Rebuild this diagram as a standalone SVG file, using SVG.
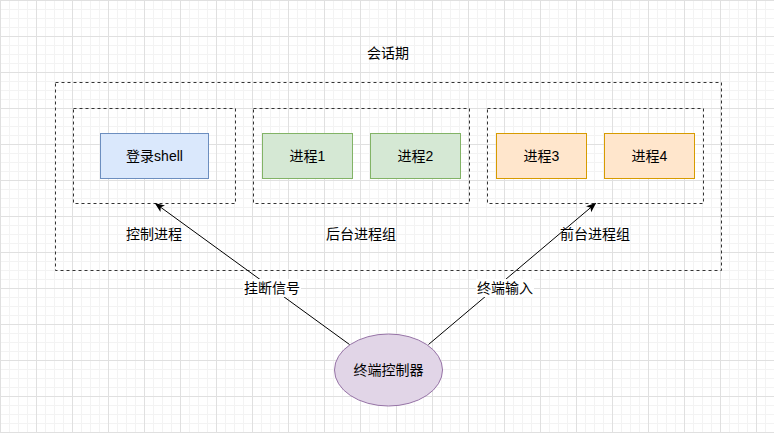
<svg xmlns="http://www.w3.org/2000/svg" width="774" height="433" viewBox="0 0 774 433">
<style>
text{font-family:"Liberation Sans","Noto Sans CJK SC",sans-serif;font-size:14px;fill:#000;text-anchor:middle;dominant-baseline:central}
.grp{fill:none;stroke:#333;stroke-width:1;stroke-dasharray:3 3}
.blue{fill:#dae8fc;stroke:#6c8ebf}
.green{fill:#d5e8d4;stroke:#82b366}
.orange{fill:#ffe6cc;stroke:#d79b00}
.edge{fill:none;stroke:#000;stroke-width:1}
.lbl{fill:#fff}
</style>
<defs>
<pattern id="minor" width="9" height="9" patternUnits="userSpaceOnUse">
<path d="M0.5 0V9M0 0.5H9" stroke="#f3f3f3" stroke-width="1" fill="none"/>
</pattern>
<pattern id="major" width="36" height="36" patternUnits="userSpaceOnUse">
<rect width="36" height="36" fill="url(#minor)"/>
<path d="M0.5 0V36M0 0.5H36" stroke="#e0e0e0" stroke-width="1" fill="none"/>
</pattern>
<marker id="arr" viewBox="0 0 10 10" refX="9" refY="5" markerWidth="10" markerHeight="10" orient="auto" markerUnits="userSpaceOnUse">
<path d="M0 1 L10 5 L0 9 L2.5 5 Z" fill="#000"/>
</marker>
</defs>
<rect width="774" height="433" fill="#fff"/>
<rect width="774" height="433" fill="url(#major)"/>

<g id="session">
<rect class="grp" x="55.5" y="82.5" width="666" height="188"/>
<text x="388" y="53">会话期</text>
</g>
<g id="control-group">
<rect class="grp" x="73.5" y="108.5" width="162" height="95"/>
<text x="154" y="234">控制进程</text>
</g>
<g id="login-shell">
<rect class="blue" x="100.5" y="133.5" width="108" height="45"/>
<text x="154.5" y="156">登录shell</text>
</g>
<g id="bg-group">
<rect class="grp" x="253.5" y="108.5" width="216" height="95"/>
<text x="361" y="234">后台进程组</text>
</g>
<g id="p1">
<rect class="green" x="262.5" y="133.5" width="90" height="45"/>
<text x="307.5" y="156">进程1</text>
</g>
<g id="p2">
<rect class="green" x="370.5" y="133.5" width="90" height="45"/>
<text x="415.5" y="156">进程2</text>
</g>
<g id="fg-group">
<rect class="grp" x="487.5" y="108.5" width="216" height="95"/>
<text x="595" y="234">前台进程组</text>
</g>
<g id="p3">
<rect class="orange" x="496.5" y="133.5" width="90" height="45"/>
<text x="541.5" y="156">进程3</text>
</g>
<g id="p4">
<rect class="orange" x="604.5" y="133.5" width="90" height="45"/>
<text x="649.5" y="156">进程4</text>
</g>
<g id="terminal">
<ellipse cx="388.5" cy="370" rx="54" ry="36" fill="#e1d5e7" stroke="#9673a6"/>
<text x="388.5" y="370">终端控制器</text>
</g>
<g id="connectors">
<path class="edge" d="M349.5 344.5 L155.5 203.5" marker-end="url(#arr)"/>
<rect class="lbl" x="243" y="279" width="58" height="18"/>
<text x="272" y="288">挂断信号</text>
<path class="edge" d="M428.5 344.5 L595.5 203.5" marker-end="url(#arr)"/>
<rect class="lbl" x="476" y="279" width="58" height="18"/>
<text x="505" y="288">终端输入</text>
</g>
</svg>
